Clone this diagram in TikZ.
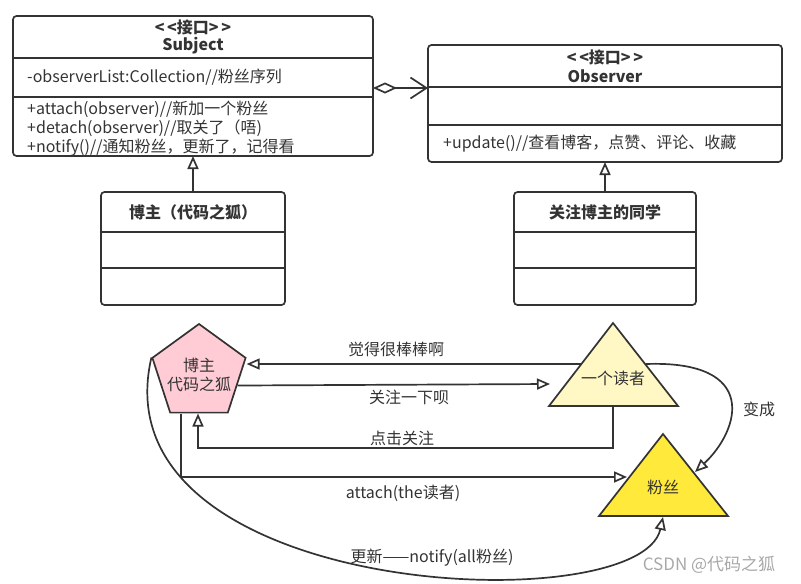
\documentclass[tikz,border=0pt]{standalone}
\usepackage{fontspec}
\setmainfont{Noto Sans CJK SC}
\usetikzlibrary{arrows.meta,shapes.geometric,calc}
\definecolor{ink}{HTML}{333333}
\definecolor{pinkfill}{HTML}{FFCCD5}
\definecolor{readerfill}{HTML}{FFF8C4}
\definecolor{fansfill}{HTML}{FFE93B}
\definecolor{markgray}{HTML}{A8A8A8}
\begin{document}
\begin{tikzpicture}[x=1pt, y=-1pt,
  every node/.style={text=ink, inner sep=0pt, font=\fontsize{16}{19.5}\selectfont},
  boldtxt/.style={font=\fontsize{16}{19.5}\selectfont\bfseries},
  umlbox/.style={draw=ink, line width=1.7pt, rounded corners=3.5pt, outer sep=0pt, anchor=north west},
  divline/.style={draw=ink, line width=1.7pt},
  shapeline/.style={draw=ink, line width=1.7pt, line join=miter},
  hollow/.style={draw=ink, line width=1.7pt, -{Triangle[open, length=13pt, width=11pt]}},
  agg/.style={draw=ink, line width=1.7pt, {Diamond[open, length=24pt, width=11pt]}-{Straight Barb[length=16pt, width=21pt]}}]
\useasboundingbox (0,0) rectangle (801,584);
% interface Subject
\node[umlbox, minimum width=360pt, minimum height=140pt] (subj) at (13,16){};
\draw[divline](subj.west |- 0,58) -- (subj.east |- 0,58);
\draw[divline](subj.west |- 0,97) -- (subj.east |- 0,97);
\node[boldtxt] (subjst) at (193,27){<\,<接口>\,>};
\node[boldtxt] (subjname) at (193,46){Subject};
\node[anchor=west] (subjattr) at (27,77){-observerList:Collection//粉丝序列};
\node[anchor=west] (subjm1) at (27,109){+attach(observer)//新加一个粉丝};
\node[anchor=west] (subjm2) at (27,128){+detach(observer)//取关了（唔)};
\node[anchor=west] (subjm3) at (27,148){+notify()//通知粉丝，更新了，记得看};
% interface Observer
\node[umlbox, minimum width=354pt, minimum height=117pt] (obsv) at (428,45){};
\draw[divline](obsv.west |- 0,87) -- (obsv.east |- 0,87);
\draw[divline](obsv.west |- 0,125) -- (obsv.east |- 0,125);
\node[boldtxt] (obsvst) at (605,57){<\,<接口>\,>};
\node[boldtxt] (obsvname) at (605,76){Observer};
\node[anchor=west] (obsvm1) at (443,144){+update()//查看博客，点赞、评论、收藏};
\draw[agg](subj.east |- 0,88) -- (obsv.west |- 0,88);
% classes
\node[umlbox, minimum width=184pt, minimum height=113pt] (bzcls) at (101,192){};
\draw[divline](bzcls.west |- 0,232) -- (bzcls.east |- 0,232);
\draw[divline](bzcls.west |- 0,268) -- (bzcls.east |- 0,268);
\node[boldtxt] (bzname) at (193,212){博主（代码之狐）};
\node[umlbox, minimum width=182pt, minimum height=113pt] (fancls) at (514,192){};
\draw[divline](fancls.west |- 0,232) -- (fancls.east |- 0,232);
\draw[divline](fancls.west |- 0,268) -- (fancls.east |- 0,268);
\node[boldtxt] (fanname) at (605,212){关注博主的同学};
\draw[hollow](bzcls.north) -- (subj.south);
\draw[hollow](fancls.north) -- (obsv.south);
% scene
\node[regular polygon, regular polygon sides=5, minimum size=98pt, shapeline, fill=pinkfill] (blogger) at (199,373){};
\node[align=center] (bloggertxt) at (199,375){博主\\代码之狐};
\coordinate (rdtop) at (613,323);
\coordinate (rdleft) at (549,406);
\coordinate (rdright) at (678,406);
\draw[shapeline, fill=readerfill](rdtop) -- (rdleft) -- (rdright) -- cycle;
\node (reader) at (613,378){一个读者};
\coordinate (fntop) at (663,434);
\coordinate (fnleft) at (599,516);
\coordinate (fnright) at (728,516);
\draw[shapeline, fill=fansfill](fntop) -- (fnleft) -- (fnright) -- cycle;
\node (fans) at (663,487){粉丝};
\coordinate (rdin) at (581,364);
\coordinate (rdout) at (646,364);
\coordinate (rdarr) at (550,384);
\coordinate (fnin) at (627,477);
\coordinate (fnside) at (695,472);
\coordinate (fnbot) at (663,517);
\draw[hollow](rdin) -- (rdin -| blogger.corner 5);
\draw[hollow]($(blogger.corner 4)!0.5!(blogger.corner 5)$) -- (rdarr);
\draw[hollow](rdtop |- rdleft) -- ++(0,42) -| ($(blogger.south)+(-1,0)$);
\draw[hollow]($(blogger.south)+(-18,0)$) |- (fnin);
\draw[hollow](rdout) .. controls (760,360) and (740,430) .. (fnside);
\draw[hollow](blogger.corner 2) .. controls (95,600) and (640,622) .. (fnbot);
\node (lbllike) at (396,349){觉得很棒棒啊};
\node (lblfollow) at (409,397){关注一下呗};
\node (lblclick) at (402,438){点击关注};
\node (lblattach) at (403,493){attach(the读者)};
\node (lblbecome) at (759,409){变成};
\node (lblnotify) at (432,558){更新——notify(all粉丝)};
\node[text=markgray, font=\fontsize{17}{20}\selectfont] (mark) at (709,565){CSDN @代码之狐};
\end{tikzpicture}
\end{document}
